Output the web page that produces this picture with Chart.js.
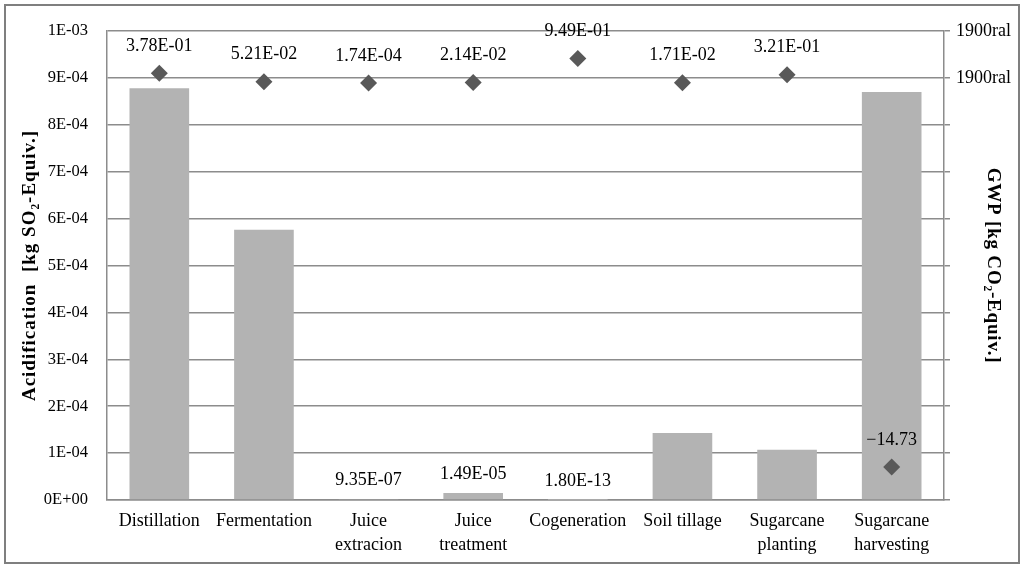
<!DOCTYPE html>
<html>
<head>
<meta charset="utf-8">
<script src="https://cdn.jsdelivr.net/npm/chart.js@4.4.1/dist/chart.umd.min.js"></script>
<style>
  html, body { margin: 0; padding: 0; background: #fff; }
  #wrap { width: 1024px; height: 570px; }
</style>
</head>
<body>
<div id="wrap"><canvas id="chart"></canvas></div>
<script>
// categories
const processes = ['Distillation', 'Fermentation', ['Juice', 'extracion'], ['Juice', 'treatment'],
    'Cogeneration', 'Soil tillage', ['Sugarcane', 'planting'], ['Sugarcane', 'harvesting']];

// acidification (bars, left axis)
const acidification = [8.78e-4, 5.76e-4, 9.35e-7, 1.49e-5, 1.80e-13, 1.43e-4, 1.07e-4, 8.70e-4];
const acidLabelShown = [false, false, true, true, true, false, false, false];

// GWP (diamonds, right axis)
const gwp = [0.378, 0.0521, 0.000174, 0.0214, 0.949, 0.0171, 0.321, -14.73];

// tick labels, bottom to top
const leftTicks = ['0E+00', '1E-04', '2E-04', '3E-04', '4E-04', '5E-04', '6E-04', '7E-04', '8E-04', '9E-04', '1E-03'];
const rightTicks = ['', '', '', '', '', '', '', '', '', '1900ral', '1900ral'];

const leftTitle = 'Acidification  [kg SO\u2082-Equiv.]';
const rightTitle = 'GWP [kg CO\u2082-Equiv.]';

const serif = "'Liberation Serif', 'Times New Roman', serif";
const gridGray = '#8c8c8c';

// number format used in the data labels
function sci(v) {
    if (Math.abs(v) >= 1) return (v < 0 ? '\u2212' : '') + Math.abs(v).toFixed(2);
    let e = Math.floor(Math.log10(v));
    let m = v / Math.pow(10, e);
    if (Math.round(m * 100) >= 1000) { m = m / 10; e++; }
    const sign = e < 0 ? '-' : '+';
    return m.toFixed(2) + 'E' + sign + String(Math.abs(e)).padStart(2, '0');
}

const frame = {
    id: 'frame',
    beforeDraw(chart) {
        const ctx = chart.ctx;
        ctx.save();
        ctx.fillStyle = '#fff';
        ctx.fillRect(0, 0, chart.width, chart.height);
        ctx.strokeStyle = '#7f7f7f';
        ctx.lineWidth = 2;
        ctx.strokeRect(5, 5, 1014, 558);
        ctx.restore();
    },
    afterDraw(chart) {
        // axis titles, drawn by hand for the wider letter spacing
        const ctx = chart.ctx;
        const midY = (chart.chartArea.top + chart.chartArea.bottom) / 2;
        ctx.save();
        ctx.fillStyle = '#000';
        ctx.font = 'bold 19px ' + serif;
        ctx.textAlign = 'center';
        ctx.textBaseline = 'middle';
        ctx.letterSpacing = '1px';
        ctx.translate(30, midY);
        ctx.rotate(-Math.PI / 2);
        ctx.fillText(leftTitle, 0, 0);
        ctx.restore();

        ctx.save();
        ctx.fillStyle = '#000';
        ctx.font = 'bold 19px ' + serif;
        ctx.textAlign = 'center';
        ctx.textBaseline = 'middle';
        ctx.letterSpacing = '0.8px';
        ctx.translate(993, midY);
        ctx.rotate(Math.PI / 2);
        ctx.fillText(rightTitle, 0, 0);
        ctx.restore();
    }
};

const valueLabels = {
    id: 'valueLabels',
    afterDatasetsDraw(chart) {
        const ctx = chart.ctx;
        ctx.save();
        ctx.fillStyle = '#000';
        ctx.font = '18px ' + serif;
        ctx.textAlign = 'center';
        ctx.textBaseline = 'middle';
        chart.getDatasetMeta(0).data.forEach((bar, i) => {
            if (acidLabelShown[i]) ctx.fillText(sci(acidification[i]), bar.x, bar.y - 19);
        });
        chart.getDatasetMeta(1).data.forEach((pt, i) => {
            ctx.fillText(sci(gwp[i]), pt.x, pt.y - 27);
        });
        ctx.restore();
    }
};

new Chart(document.getElementById('chart'), {
    type: 'bar',
    data: {
        labels: processes,
        datasets: [{
            label: 'Acidification',
            data: acidification,
            yAxisID: 'y',
            backgroundColor: '#b3b3b3',
            barPercentage: 0.57,
            categoryPercentage: 1,
            order: 1
        }, {
            type: 'line',
            label: 'GWP',
            data: gwp,
            yAxisID: 'y1',
            showLine: false,
            pointStyle: 'rectRot',
            pointRadius: 8.5,
            pointBackgroundColor: '#595959',
            pointBorderColor: '#595959',
            pointBorderWidth: 0,
            order: 0
        }]
    },
    options: {
        responsive: true,
        maintainAspectRatio: false,
        animation: false,
        layout: { padding: { top: 31, left: 0, right: 0, bottom: 0 } },
        plugins: {
            legend: { display: false },
            tooltip: { enabled: false }
        },
        scales: {
            x: {
                grid: { display: false, drawTicks: false },
                border: { display: true, color: gridGray, width: 1.5 },
                ticks: {
                    color: '#000',
                    font: { family: serif, size: 18, lineHeight: 1.33 },
                    padding: 9,
                    maxRotation: 0,
                    autoSkip: false
                },
                afterFit(scale) { scale.height = 70; }
            },
            y: {
                position: 'left',
                min: 0,
                max: 1e-3,
                ticks: {
                    stepSize: 1e-4,
                    color: '#000',
                    padding: 19,
                    font: { family: serif, size: 16.5 },
                    callback: (v, i) => leftTicks[i]
                },
                grid: { color: gridGray, lineWidth: 1.5, drawTicks: false },
                border: { display: true, color: gridGray, width: 1.5 },
                afterFit(scale) { scale.width = 107; }
            },
            y1: {
                position: 'right',
                min: -16,
                max: 2,
                ticks: {
                    stepSize: 1.8,
                    color: '#000',
                    padding: 6,
                    font: { family: serif, size: 18 },
                    callback: (v, i) => rightTicks[i]
                },
                grid: { drawOnChartArea: false, color: gridGray, lineWidth: 1.5, tickLength: 6 },
                border: { display: true, color: gridGray, width: 1.5 },
                afterFit(scale) { scale.width = 80; }
            }
        }
    },
    plugins: [frame, valueLabels]
});
</script>
</body>
</html>
